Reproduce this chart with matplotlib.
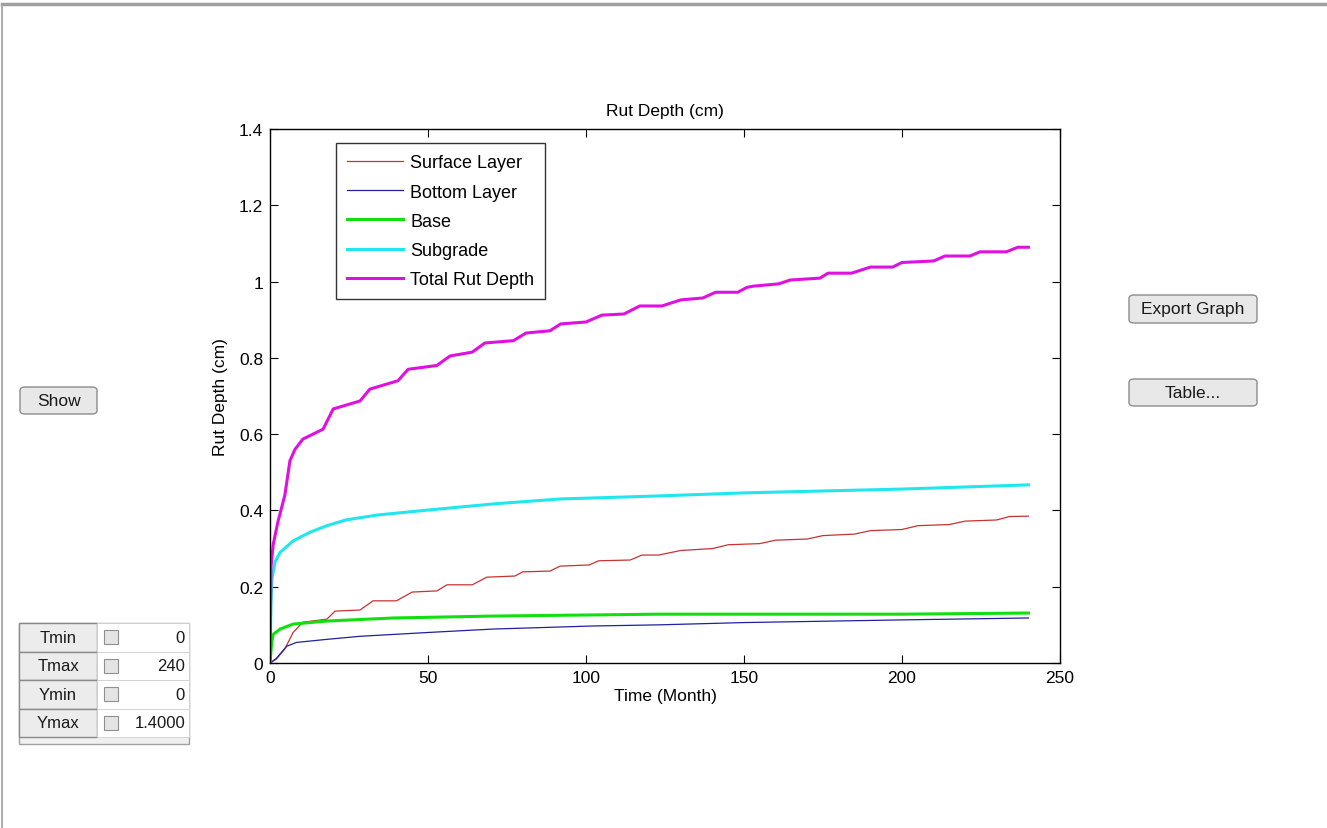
import matplotlib.pyplot as plt
from matplotlib.patches import FancyBboxPatch, Rectangle
from matplotlib.lines import Line2D

plt.rcParams['font.family'] = ['Liberation Sans', 'DejaVu Sans']

# values (time in months, depth in cm)
surface_t = [0, 2, 4.7, 7.3, 10.4, 18, 20.6, 28.5, 32.6, 40, 45, 52.8, 56, 64, 68.6, 77.5, 80,
             88.6, 91.8, 101, 104, 114, 117.7, 123, 130, 140, 145, 155, 160, 170, 175, 185, 190,
             200, 205, 215, 220, 230, 234, 240]
surface_v = [0, 0.01, 0.037, 0.08, 0.107, 0.115, 0.136, 0.139, 0.163, 0.163, 0.186, 0.189, 0.205,
             0.205, 0.225, 0.228, 0.239, 0.241, 0.254, 0.257, 0.268, 0.27, 0.283, 0.283, 0.295,
             0.3, 0.31, 0.313, 0.322, 0.325, 0.334, 0.338, 0.347, 0.35, 0.36, 0.363, 0.372, 0.375,
             0.384, 0.385]

bottom_t = [0, 2, 5.3, 8.4, 18, 28.5, 50, 70.6, 102, 123, 150, 200, 240]
bottom_v = [0, 0.012, 0.044, 0.054, 0.062, 0.07, 0.08, 0.089, 0.097, 0.1, 0.106, 0.113, 0.118]

base_t = [0, 0.5, 1, 3.2, 7.3, 18, 39, 70, 123, 200, 240]
base_v = [0, 0.05, 0.075, 0.089, 0.102, 0.11, 0.118, 0.123, 0.128, 0.128, 0.131]

subgrade_t = [0, 0.3, 0.6, 1.6, 3.2, 7.3, 12.7, 18, 24, 34, 50, 70.6, 91.8, 123, 150, 200, 240]
subgrade_v = [0, 0.15, 0.22, 0.265, 0.29, 0.32, 0.343, 0.36, 0.375, 0.388, 0.401, 0.417, 0.43,
              0.438, 0.446, 0.456, 0.467]

total_t = [0, 0.3, 1, 2.5, 4.7, 6.3, 7.9, 10.4, 16.8, 20, 28.5, 31.6, 40.5, 43.7, 52.8, 57, 64,
           68, 77, 81, 88.6, 92, 100, 105, 112, 117, 124, 130, 137, 141, 148, 151, 153, 161,
           164.6, 174, 176.6, 184, 190, 197, 200, 210, 213.6, 221.5, 224.7, 233, 236.7, 240]
total_v = [0, 0.25, 0.31, 0.37, 0.44, 0.53, 0.56, 0.587, 0.613, 0.666, 0.687, 0.718, 0.74, 0.77,
           0.78, 0.805, 0.815, 0.839, 0.845, 0.865, 0.871, 0.889, 0.894, 0.912, 0.915, 0.936,
           0.936, 0.952, 0.957, 0.972, 0.972, 0.985, 0.988, 0.994, 1.004, 1.009, 1.022, 1.022,
           1.038, 1.038, 1.05, 1.054, 1.067, 1.067, 1.078, 1.078, 1.09, 1.09]

x_ticks = [0, 50, 100, 150, 200, 250]
y_ticks = [0, 0.2, 0.4, 0.6, 0.8, 1, 1.2, 1.4]
y_labels = ['0', '0.2', '0.4', '0.6', '0.8', '1', '1.2', '1.4']

table_names = ['Tmin', 'Tmax', 'Ymin', 'Ymax']
table_values = ['0', '240', '0', '1.4000']

W, H = 1327, 829
fig = plt.figure(figsize=(W / 100, H / 100), dpi=100)


def fx(px):
    return px / W


def fy(py):
    return 1 - py / H


# panel frame
fig.add_artist(Line2D([fx(2), 1], [fy(5), fy(5)], color='#a0a0a0', lw=2.5))
fig.add_artist(Line2D([fx(2), fx(2)], [fy(5), 0], color='#a0a0a0', lw=1.2))

ax = fig.add_axes([fx(270), fy(664), fx(1060) - fx(270), fy(130) - fy(664)])
ax.plot(surface_t, surface_v, color='#c83232', lw=0.9, label='Surface Layer')
ax.plot(bottom_t, bottom_v, color='#2020a0', lw=0.9, label='Bottom Layer')
ax.plot(base_t, base_v, color='#10e010', lw=2.2, label='Base')
ax.plot(subgrade_t, subgrade_v, color='#20e6ee', lw=2.2, label='Subgrade')
ax.plot(total_t, total_v, color='#e010e0', lw=2.2, label='Total Rut Depth')

ax.set_xlim(0, 250)
ax.set_ylim(0, 1.4)
ax.set_xticks(x_ticks)
ax.set_xticklabels([str(v) for v in x_ticks])
ax.set_yticks(y_ticks)
ax.set_yticklabels(y_labels)
ax.tick_params(direction='in', length=6, width=0.8, labelsize=12.5, top=True, right=True, pad=5)
for s in ax.spines.values():
    s.set_linewidth(1.0)
ax.set_title('Rut Depth (cm)', fontsize=12.5, pad=10)
ax.set_xlabel('Time (Month)', fontsize=12.5, labelpad=2)
ax.set_ylabel('Rut Depth (cm)', fontsize=12.5, labelpad=8)

leg = ax.legend(loc='upper left', bbox_to_anchor=(0.084, 0.973), fontsize=13, frameon=True,
                fancybox=False, edgecolor='black', handlelength=3.1, handletextpad=0.4,
                labelspacing=0.68, borderpad=0.6, borderaxespad=0)
leg.get_frame().set_linewidth(1.0)


def button(x0, y0, x1, y1, text):
    p = FancyBboxPatch((fx(x0), fy(y1)), fx(x1) - fx(x0), fy(y0) - fy(y1),
                       boxstyle='round,pad=0,rounding_size=0.004', transform=fig.transFigure,
                       facecolor='#e8e8e8', edgecolor='#8c8c8c', lw=1.0)
    fig.add_artist(p)
    fig.text(fx((x0 + x1) / 2), fy((y0 + y1) / 2), text, ha='center', va='center',
             fontsize=12.5, color='#1a1a1a')


button(20, 388, 97, 415, 'Show')
button(1129, 296, 1257, 324, 'Export Graph')
button(1129, 380, 1257, 407, 'Table...')

# small limits table at bottom left
tx0, tx1, tx2, tx3 = 19, 97, 127, 189
ty0, row_h = 624, 28.5
fig.add_artist(Rectangle((fx(tx0), fy(745)), fx(tx3) - fx(tx0), fy(ty0) - fy(745),
                         transform=fig.transFigure, facecolor='#f0f0f0', edgecolor='#a0a0a0', lw=1.0))
for i, (name, val) in enumerate(zip(table_names, table_values)):
    top = ty0 + i * row_h
    bot = top + row_h
    fig.add_artist(Rectangle((fx(tx0), fy(bot)), fx(tx1) - fx(tx0), fy(top) - fy(bot),
                             transform=fig.transFigure, facecolor='#ececec', edgecolor='#8a8a8a', lw=1.0))
    fig.add_artist(Rectangle((fx(tx1), fy(bot)), fx(tx3) - fx(tx1), fy(top) - fy(bot),
                             transform=fig.transFigure, facecolor='white', edgecolor='#d0d0d0', lw=0.6))
    fig.add_artist(Rectangle((fx(104), fy(top + 21)), fx(118) - fx(104), fy(top + 7) - fy(top + 21),
                             transform=fig.transFigure, facecolor='#e4e4e4', edgecolor='#909090', lw=0.8))
    fig.text(fx((tx0 + tx1) / 2), fy(top + row_h / 2), name, ha='center', va='center',
             fontsize=12, color='#1a1a1a')
    fig.text(fx(tx3 - 4), fy(top + row_h / 2), val, ha='right', va='center',
             fontsize=12, color='#1a1a1a')

fig.savefig('out.png', dpi=100, facecolor='white')
